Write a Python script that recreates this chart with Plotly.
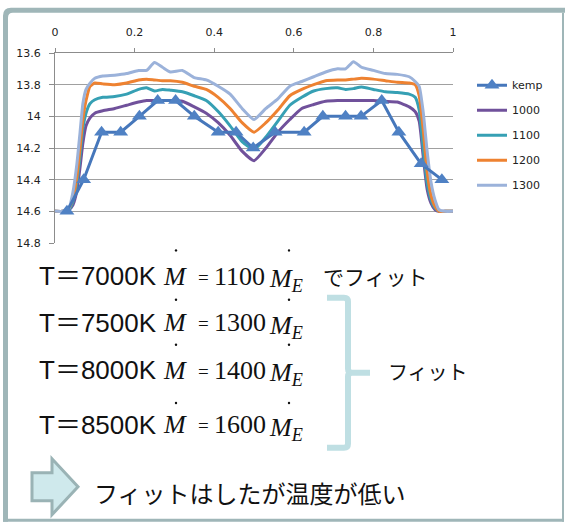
import re
import plotly.graph_objects as go

# ---- data -------------------------------------------------------------
pos = [0, 0.02, 0.035, 0.045, 0.055, 0.063, 0.07, 0.078, 0.088, 0.1, 0.12,
       0.15, 0.18, 0.21, 0.23, 0.25, 0.27, 0.29, 0.32, 0.35, 0.38, 0.41,
       0.44, 0.47, 0.5, 0.53, 0.56, 0.59, 0.62, 0.65, 0.68, 0.71, 0.73,
       0.75, 0.77, 0.8, 0.83, 0.86, 0.89, 0.905, 0.915, 0.925, 0.935,
       0.945, 0.955, 0.965, 0.98, 1.0]

m1000 = [14.6, 14.6, 14.59, 14.56, 14.47, 14.32, 14.17, 14.06, 14.01, 13.98,
         13.965, 13.95, 13.93, 13.91, 13.9, 13.9, 13.9, 13.9, 13.905, 13.94,
         13.98, 14.04, 14.12, 14.22, 14.28, 14.2, 14.1, 14.02, 13.95, 13.925,
         13.905, 13.9, 13.9, 13.9, 13.9, 13.9, 13.905, 13.91, 13.94, 13.97,
         14.03, 14.25, 14.46, 14.55, 14.59, 14.6, 14.6, 14.6]

m1100 = [14.6, 14.6, 14.59, 14.54, 14.42, 14.25, 14.08, 13.98, 13.92, 13.895,
         13.88, 13.875, 13.86, 13.83, 13.82, 13.84, 13.83, 13.835, 13.845,
         13.87, 13.9, 13.97, 14.06, 14.16, 14.21, 14.13, 14.03, 13.93, 13.88,
         13.84, 13.825, 13.82, 13.83, 13.825, 13.815, 13.83, 13.845, 13.85,
         13.86, 13.88, 13.96, 14.2, 14.42, 14.53, 14.58, 14.6, 14.6, 14.6]

m1200 = [14.6, 14.6, 14.58, 14.52, 14.38, 14.2, 14.02, 13.9, 13.81, 13.79,
         13.795, 13.8, 13.79, 13.77, 13.765, 13.77, 13.775, 13.775, 13.785,
         13.81, 13.83, 13.88, 13.95, 14.04, 14.1, 14.04, 13.96, 13.87, 13.83,
         13.8, 13.775, 13.77, 13.77, 13.765, 13.76, 13.765, 13.775, 13.785,
         13.79, 13.8, 13.87, 14.08, 14.35, 14.5, 14.57, 14.6, 14.6, 14.6]

m1300 = [14.6, 14.6, 14.58, 14.48, 14.3, 14.1, 13.92, 13.83, 13.79, 13.76,
         13.745, 13.74, 13.73, 13.71, 13.71, 13.66, 13.69, 13.72, 13.71,
         13.755, 13.77, 13.81, 13.86, 13.95, 14.02, 13.95, 13.89, 13.81,
         13.78, 13.75, 13.72, 13.7, 13.7, 13.655, 13.69, 13.71, 13.73, 13.735,
         13.75, 13.78, 13.81, 13.97, 14.22, 14.42, 14.53, 14.59, 14.6, 14.6]

kemp_x = [0.03, 0.072, 0.117, 0.165, 0.212, 0.258, 0.303, 0.35, 0.41, 0.455,
          0.498, 0.553, 0.626, 0.673, 0.73, 0.769, 0.821, 0.864, 0.92, 0.972]
kemp_y = [14.6, 14.4, 14.1, 14.1, 14.0, 13.9, 13.9, 14.0, 14.1, 14.1,
          14.2, 14.1, 14.1, 14.0, 14.0, 14.0, 13.9, 14.1, 14.3, 14.4]

x_ticks = [0, 0.2, 0.4, 0.6, 0.8, 1]
x_labels = ["0", "0.2", "0.4", "0.6", "0.8", "1"]
y_ticks = [13.6, 13.8, 14.0, 14.2, 14.4, 14.6, 14.8]
y_labels = ["13.6", "13.8", "14", "14.2", "14.4", "14.6", "14.8"]

fits = [("T＝7000K", "1100"), ("T＝7500K", "1300"),
        ("T＝8000K", "1400"), ("T＝8500K", "1600")]

# ---- page geometry (pixels) ------------------------------------------
W, H = 565, 524
L, R, T, B = 55, 112, 53.3, 280.7
PW = W - L - R
PH = H - T - B


def px(x):
    return (x - L) / PW


def py(y):
    return (H - B - y) / PH


def ppath(d):
    """SVG path given in page pixels -> paper coordinates."""
    def conv(m):
        return f"{px(float(m.group(1))):.5f},{py(float(m.group(2))):.5f}"
    return re.sub(r"(-?[\d.]+),(-?[\d.]+)", conv, d)


SANS = "DejaVu Sans"
TXT = "Liberation Sans, Noto Sans CJK JP"
JP = "Noto Sans CJK JP"
SERIF = "Liberation Serif, Times New Roman"

fig = go.Figure()

series = [("1000", m1000, "#70519b"), ("1100", m1100, "#36a0b4"),
          ("1200", m1200, "#ee8231"), ("1300", m1300, "#9bb2da")]
for i, (name, ys, col) in enumerate(series):
    fig.add_trace(go.Scatter(
        x=pos, y=ys, name=name, mode="lines",
        line=dict(color=col, width=3, shape="spline", smoothing=0.5),
        legendrank=i + 2, legendgroup=name))

fig.add_trace(go.Scatter(
    x=kemp_x, y=kemp_y, name="kemp", mode="lines+markers",
    line=dict(color="#4677bb", width=3),
    marker=dict(symbol="triangle-up", size=13, color="#4f81c4"),
    legendrank=1, legendgroup="kemp"))

fig.update_xaxes(range=[0, 1], side="top", tickvals=x_ticks, ticktext=x_labels,
                 ticks="outside", ticklen=4, tickcolor="#8c8c8c",
                 showline=True, linecolor="#8c8c8c", linewidth=1,
                 showgrid=False, zeroline=False, ticklabelstandoff=8,
                 tickfont=dict(family=SANS, size=11, color="#222"))
fig.update_yaxes(range=[14.8, 13.6], tickvals=y_ticks, ticktext=y_labels,
                 ticks="outside", ticklen=5, tickcolor="#8c8c8c",
                 showline=True, linecolor="#8c8c8c", linewidth=1,
                 showgrid=True, gridcolor="#a0a0a0", gridwidth=1,
                 zeroline=False, ticklabelstandoff=6,
                 tickfont=dict(family=SANS, size=11, color="#222"))

shapes = []
frame = "#9fb6b8"
# outer frame: thick top/left with a rounded corner, thin right/bottom
shapes.append(dict(type="path", xref="paper", yref="paper", layer="above",
                   path=ppath("M 3,522 L 3,16 Q 3,8 11,8 L 565,8 L 565,13 "
                              "L 13,13 Q 8,13 8,18 L 8,522 Z"),
                   fillcolor=frame, line=dict(width=0)))
shapes.append(dict(type="rect", xref="paper", yref="paper",
                   x0=px(562), x1=px(564), y0=py(13), y1=py(522),
                   fillcolor=frame, line=dict(width=0)))
shapes.append(dict(type="rect", xref="paper", yref="paper",
                   x0=px(3), x1=px(564), y0=py(519), y1=py(522),
                   fillcolor=frame, line=dict(width=0)))

# curly bracket grouping the last three rows
shapes.append(dict(type="path", xref="paper", yref="paper",
                   path=ppath("M 327,298 L 344,298 Q 348,298 348,302 "
                              "L 348,369 Q 348,373 352,373 L 370,373 "
                              "M 352,373 Q 348,373 348,377 L 348,444 "
                              "Q 348,448 344,448 L 327,448"),
                   line=dict(color="#bfdfe3", width=6)))

# block arrow
shapes.append(dict(type="path", xref="paper", yref="paper",
                   path=ppath("M 32,473 L 52,473 L 52,459 L 78,487 "
                              "L 52,515 L 52,501 L 32,501 Z"),
                   fillcolor="#cfe9ec", line=dict(color="#9ab3b5", width=3)))

annotations = []
row_y = [276.5, 323, 370.5, 425]
dot_y = [250.7, 300, 345, 403.3]
for (label, mass), yc, yd in zip(fits, row_y, dot_y):
    annotations.append(dict(x=px(37), y=py(yc), text=label, xanchor="left",
                            yanchor="middle",
                            font=dict(family=TXT, size=26, color="#111")))
    annotations.append(dict(x=px(161), y=py(yc), text="<i>M</i>",
                            xanchor="left", yanchor="middle",
                            font=dict(family=SERIF, size=26, color="#111")))
    annotations.append(dict(x=px(196), y=py(yc + 1), text="=",
                            xanchor="left", yanchor="middle",
                            font=dict(family=SERIF, size=19, color="#111")))
    annotations.append(dict(x=px(212), y=py(yc), text=mass,
                            xanchor="left", yanchor="middle",
                            font=dict(family=SERIF, size=26, color="#111")))
    annotations.append(dict(x=px(267), y=py(yc + 4),
                            text="<i>M</i><sub><i>E</i></sub>",
                            xanchor="left", yanchor="middle",
                            font=dict(family=SERIF, size=26, color="#111")))
    for xd in (176, 289):
        shapes.append(dict(type="circle", xref="paper", yref="paper",
                           x0=px(xd - 1.2), x1=px(xd + 1.2),
                           y0=py(yd - 1.2), y1=py(yd + 1.2),
                           fillcolor="#111", line=dict(width=0)))

annotations.append(dict(x=px(321), y=py(276), text="でフィット",
                        xanchor="left", yanchor="middle",
                        font=dict(family=JP, size=21, color="#111")))
annotations.append(dict(x=px(386), y=py(372), text="フィット",
                        xanchor="left", yanchor="middle",
                        font=dict(family=JP, size=20, color="#111")))
annotations.append(dict(x=px(92), y=py(493), text="フィットはしたが温度が低い",
                        xanchor="left", yanchor="middle",
                        font=dict(family=JP, size=24, color="#111")))

for a in annotations:
    a.update(xref="paper", yref="paper", showarrow=False)

fig.update_layout(
    width=W, height=H,
    margin=dict(l=L, r=R, t=T, b=B, pad=0),
    paper_bgcolor="white", plot_bgcolor="white",
    showlegend=True,
    legend=dict(x=px(472), xanchor="left", y=py(71), yanchor="top",
                font=dict(family=SANS, size=11, color="#222"),
                bgcolor="rgba(0,0,0,0)", tracegroupgap=6, itemwidth=30),
    shapes=shapes, annotations=annotations,
)

fig.write_html("out.html")
